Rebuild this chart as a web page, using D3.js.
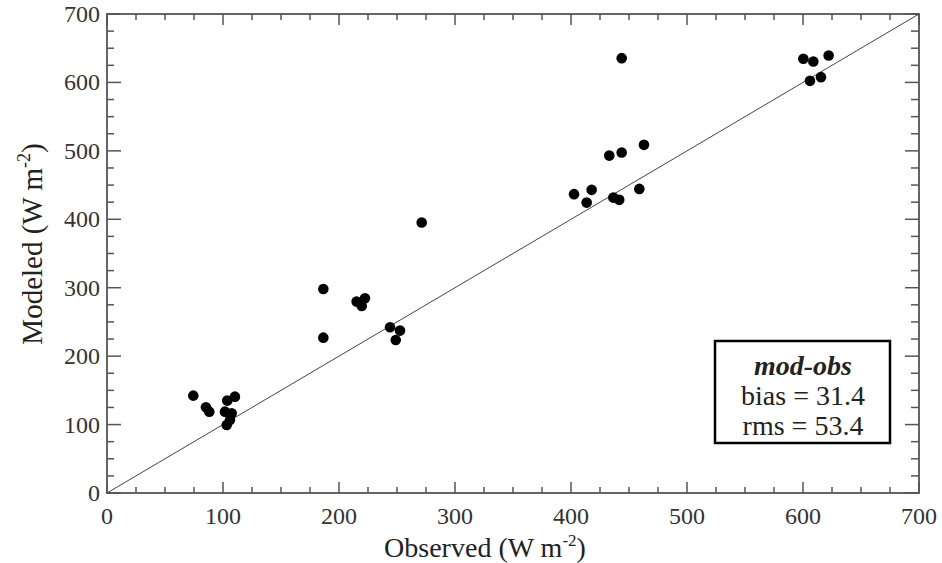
<!DOCTYPE html>
<html><head><meta charset="utf-8">
<script src="https://cdn.jsdelivr.net/npm/d3@7"></script>
<style>body{margin:0;background:#fff}</style>
</head><body>
<svg id="c" width="942" height="563"></svg>
<script>
const observed = [74.4,85.3,88.2,103.7,110.3,101.7,107.5,106,103.2,
  186.5,186.5,215.2,222.4,219.6,244,252.6,248.9,271.3,
  402.6,417.8,413.5,436.5,441.6,458.9,433,443.7,462.9,443.7,
  600.3,608.9,606,615.5,622.1];
const modeled = [142.3,125.3,118.9,135,140.8,118.9,116.5,106.7,99.4,
  298.2,227,279.7,284.6,273.4,242.3,237.3,223.7,395.2,
  436.7,443,424.4,431.7,428.4,444.4,493.1,497.5,508.8,635.5,
  634.5,630.6,602.3,607.7,639.3];
const tickValues = [0,100,200,300,400,500,600,700];
const statLines = ["mod-obs","bias = 31.4","rms = 53.4"];

const svg = d3.select("#c");
const L=107,R=919,T=14,B=493;
const x = d3.scaleLinear().domain([0,700]).range([L,R]);
const y = d3.scaleLinear().domain([0,700]).range([B,T]);
const font = "'Liberation Serif','Times New Roman',serif";
const axisCol = "#555";
const minor = d3.range(0,701,25).filter(v=>v%100!==0);

// ticks (inward, mirrored)
const g = svg.append("g").attr("stroke",axisCol).attr("stroke-width",1.5);
tickValues.forEach(v=>{
  g.append("line").attr("x1",x(v)).attr("x2",x(v)).attr("y1",B).attr("y2",B-11);
  g.append("line").attr("x1",x(v)).attr("x2",x(v)).attr("y1",T).attr("y2",T+11);
  g.append("line").attr("y1",y(v)).attr("y2",y(v)).attr("x1",L).attr("x2",L+14);
  g.append("line").attr("y1",y(v)).attr("y2",y(v)).attr("x1",R).attr("x2",R-14);
});
minor.forEach(v=>{
  g.append("line").attr("x1",x(v)).attr("x2",x(v)).attr("y1",B).attr("y2",B-6);
  g.append("line").attr("x1",x(v)).attr("x2",x(v)).attr("y1",T).attr("y2",T+6);
  g.append("line").attr("y1",y(v)).attr("y2",y(v)).attr("x1",L).attr("x2",L+7);
  g.append("line").attr("y1",y(v)).attr("y2",y(v)).attr("x1",R).attr("x2",R-8);
});
svg.append("rect").attr("x",L).attr("y",T).attr("width",R-L).attr("height",B-T)
  .attr("fill","none").attr("stroke",axisCol).attr("stroke-width",1.8);

// tick labels
svg.selectAll(".xl").data(tickValues).enter().append("text")
  .attr("x",d=>x(d)).attr("y",524).attr("text-anchor","middle")
  .attr("font-family",font).attr("font-size",24).attr("fill","#333").text(d=>d);
svg.selectAll(".yl").data(tickValues).enter().append("text")
  .attr("x",100).attr("y",d=>y(d)+8).attr("text-anchor","end")
  .attr("font-family",font).attr("font-size",24).attr("fill","#333").text(d=>d);

// axis titles
const xt = svg.append("text").attr("x",(L+R)/2 - 28).attr("y",557).attr("text-anchor","middle")
  .attr("font-family",font).attr("font-size",28).attr("fill","#222");
xt.append("tspan").text("Observed (W m");
xt.append("tspan").attr("dy",-11).attr("font-size",17).text("-2");
xt.append("tspan").attr("dy",11).text(")");
const yt = svg.append("text").attr("transform",`translate(42,244) rotate(-90)`)
  .attr("text-anchor","middle").attr("font-family",font).attr("font-size",29).attr("fill","#222");
yt.append("tspan").text("Modeled (W m");
yt.append("tspan").attr("dy",-12).attr("font-size",18).text("-2");
yt.append("tspan").attr("dy",12).text(")");

// 1:1 line
svg.append("line").attr("x1",x(0)).attr("y1",y(0)).attr("x2",x(700)).attr("y2",y(700))
  .attr("stroke","#444").attr("stroke-width",1);

// points
svg.selectAll(".pt").data(observed.map((o,i)=>[o,modeled[i]])).enter().append("circle")
  .attr("cx",d=>x(d[0])).attr("cy",d=>y(d[1])).attr("r",5.3).attr("fill","#000");

// stats box
svg.append("rect").attr("x",715).attr("y",341).attr("width",175).attr("height",102)
  .attr("fill","#fff").attr("stroke","#000").attr("stroke-width",2.5);
statLines.forEach((s,i)=>{
  svg.append("text").attr("x",803).attr("y",375+i*30).attr("text-anchor","middle")
    .attr("font-family",font).attr("font-size",28).attr("fill","#222")
    .attr("font-weight",i===0?"bold":"normal").attr("font-style",i===0?"italic":"normal")
    .text(s);
});
</script>
</body></html>
